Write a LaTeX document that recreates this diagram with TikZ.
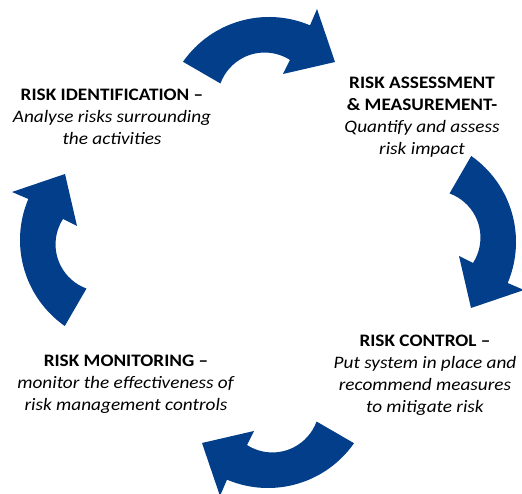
\documentclass[tikz,border=0pt]{standalone}
\usepackage{fontspec}
\setmainfont{Carlito}[FakeStretch=1.1]
\usepackage{tikz}
\usetikzlibrary{positioning}
\definecolor{cycleblue}{RGB}{3,62,138}

\begin{document}
\begin{tikzpicture}[
    x=1pt, y=1pt,
    cyclearrow/.style={fill=cycleblue, draw=none},
    stagetext/.style={align=center, anchor=base, inner sep=0pt, font=\fontsize{17.5}{22}\selectfont, text=black}
]
    \useasboundingbox (0,0) rectangle (522,494);

    % Curved arrows, one shape turned round the cycle
    \foreach \cx/\cy/\rot in {269/372/0, 411/252/-90, 268/111/180, 125/254/90} {
        \begin{scope}[shift={(\cx,\cy)}, rotate=\rot]
            \path[cyclearrow] (145:105) arc[start angle=145, end angle=67, radius=105]
                -- (48,113) -- (66,60) -- (14,48) -- (21,62)
                arc[start angle=57.3, end angle=160, radius=47] -- cycle;
        \end{scope}
    }

    % Stage texts (anchored at the last line)
    \node[stagetext] (ident) at (112,349) {\textbf{RISK IDENTIFICATION –}\\\textit{Analyse risks surrounding}\\\textit{the activities}};
    \node[stagetext] (assess) at (422,339) {\textbf{RISK ASSESSMENT}\\\textbf{\& MEASUREMENT-}\\\textit{Quantify and assess}\\\textit{risk impact}};
    \node[stagetext] (control) at (425,81) {\textbf{RISK CONTROL –}\\\textit{Put system in place and}\\\textit{recommend measures}\\\textit{to mitigate risk}};
    \node[stagetext] (monitor) at (126,83) {\textbf{RISK MONITORING –}\\\textit{monitor the effectiveness of}\\\textit{risk management controls}};
\end{tikzpicture}
\end{document}
